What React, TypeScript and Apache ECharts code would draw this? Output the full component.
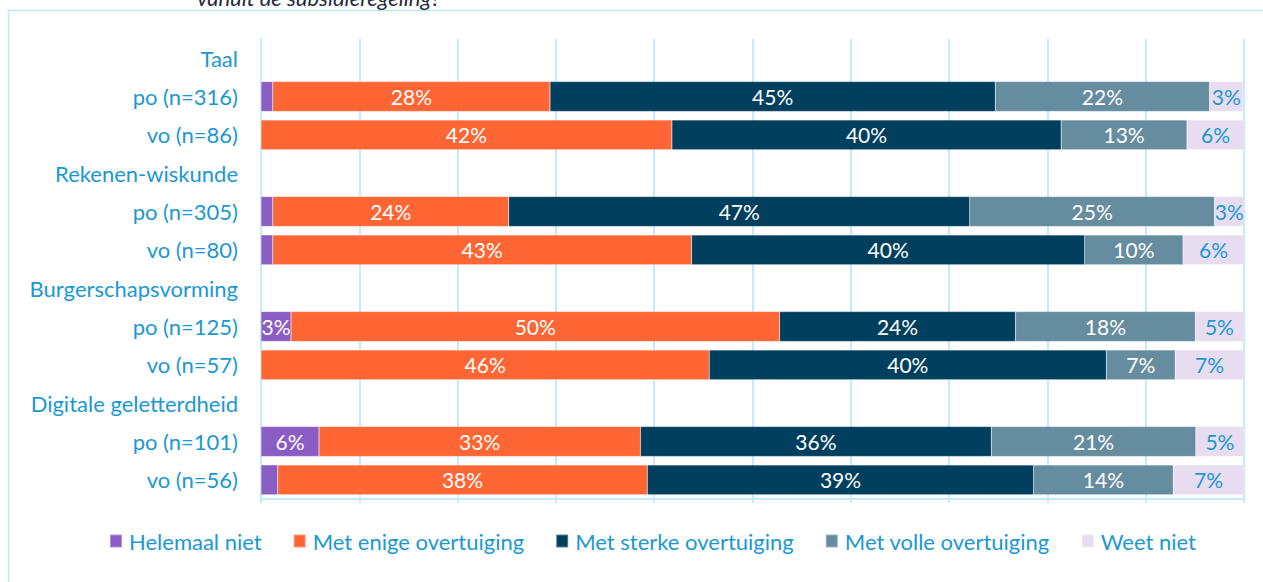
import React, { useEffect, useRef } from "react";
import * as echarts from "echarts";

const categories = [
  "Taal", "po (n=316)", "vo (n=86)",
  "Rekenen-wiskunde", "po (n=305)", "vo (n=80)",
  "Burgerschapsvorming", "po (n=125)", "vo (n=57)",
  "Digitale geletterdheid", "po (n=101)", "vo (n=56)",
];

const seriesNames = [
  "Helemaal niet",
  "Met enige overtuiging",
  "Met sterke overtuiging",
  "Met volle overtuiging",
  "Weet niet",
];

const helemaalNiet = [null, 1.2, 0, null, 1.2, 1.2, null, 3.05, 0, null, 5.9, 1.7];
const enige = [null, 28.2, 41.8, null, 24.0, 42.6, null, 49.7, 45.6, null, 32.7, 37.6];
const sterke = [null, 45.3, 39.6, null, 46.9, 40.0, null, 24.0, 40.4, null, 35.7, 39.3];
const volle = [null, 21.8, 12.8, null, 24.9, 10.0, null, 18.3, 7.0, null, 20.8, 14.2];
const weetNiet = [null, 3.4, 5.8, null, 3.0, 6.2, null, 4.9, 7.0, null, 4.9, 7.2];

const colors = ["#8B5CC4", "#FF6633", "#003F5E", "#668C9F", "#E8DCF1"];
const labelColors = ["#FFFFFF", "#FFFFFF", "#FFFFFF", "#FFFFFF", "#1B98D3"];

const FONT = "Lato";
const BLUE = "#1B98D3";
const GRID_BLUE = "#C4EBFB";

export default function App() {
  const ref = useRef<HTMLDivElement>(null);
  useEffect(() => {
    document.body.style.margin = "0";
    const chart = echarts.init(ref.current!, null, { renderer: "svg" });
    const values = [helemaalNiet, enige, sterke, volle, weetNiet];
    chart.setOption({
      animation: false,
      textStyle: { fontFamily: FONT },
      grid: { left: 261, right: 19, top: 39, bottom: 83 },
      legend: {
        top: 530,
        left: 109,
        padding: 0,
        itemWidth: 12,
        itemHeight: 13,
        itemGap: 31,
        icon: "rect",
        textStyle: { color: BLUE, fontSize: 22, fontFamily: FONT, padding: [0, 0, 0, 2] },
        data: seriesNames,
      },
      xAxis: {
        type: "value",
        min: 0,
        max: 100,
        interval: 10,
        axisLabel: { show: false },
        axisLine: { show: true, lineStyle: { color: GRID_BLUE, width: 2 } },
        axisTick: { show: true, length: 4, lineStyle: { color: GRID_BLUE, width: 2 } },
        splitLine: { show: true, lineStyle: { color: GRID_BLUE, width: 2 } },
      },
      yAxis: {
        type: "category",
        inverse: true,
        data: categories,
        axisLine: { show: true, lineStyle: { color: GRID_BLUE, width: 2 } },
        axisTick: { show: false },
        axisLabel: { color: BLUE, fontSize: 22, fontFamily: FONT, margin: 23 },
      },
      series: seriesNames.map((name, i) => ({
        name,
        type: "bar",
        stack: "total",
        barCategoryGap: "22%",
        data: values[i],
        itemStyle: { color: colors[i], borderColor: "rgba(255,255,255,0.35)", borderWidth: 0.5 },
        label: {
          show: true,
          position: "inside",
          color: labelColors[i],
          fontSize: 21,
          fontFamily: FONT,
          formatter: (p: any) =>
            p.value == null || p.value < 2.5 ? "" : Math.round(p.value) + "%",
        },
      })),
      graphic: [
        {
          type: "rect",
          shape: { x: 8.5, y: 10.5, width: 1400, height: 700 },
          style: { fill: "none", stroke: "#BEE8F8", lineWidth: 1.5 },
          silent: true,
        },
        {
          type: "text",
          x: 197,
          y: 8,
          style: {
            text: "vanuit de subsidieregeling?",
            font: "italic 22px " + FONT,
            fill: "#1E2B38",
            textVerticalAlign: "bottom",
          },
        },
      ],
    });
    return () => chart.dispose();
  }, []);
  return <div ref={ref} style={{ position: "absolute", left: 0, top: 0, width: 1263, height: 582 }} />;
}
